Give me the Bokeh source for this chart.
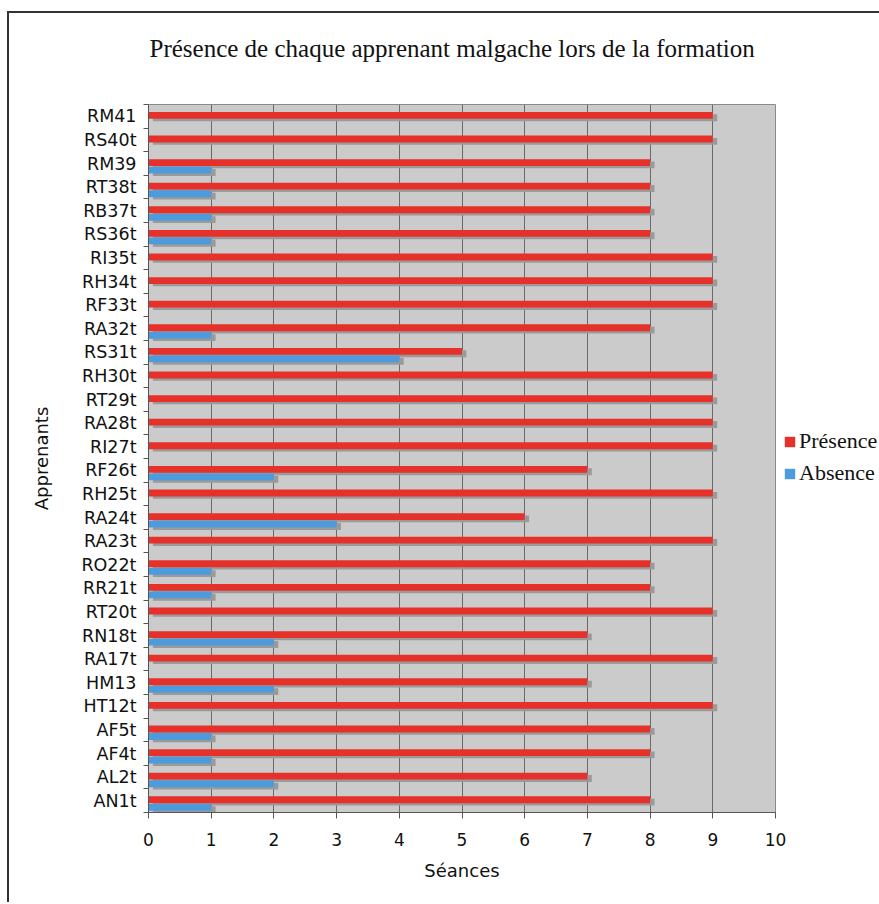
from bokeh.plotting import figure
from bokeh.models import (ColumnDataSource, Range1d, FixedTicker, Legend, LegendItem, Title)
from bokeh.transform import dodge
from bokeh.embed import file_html
from bokeh.resources import INLINE

# Data (top to bottom as in the reference)
apprenants = ["RM41", "RS40t", "RM39", "RT38t", "RB37t", "RS36t", "RI35t", "RH34t", "RF33t",
              "RA32t", "RS31t", "RH30t", "RT29t", "RA28t", "RI27t", "RF26t", "RH25t", "RA24t",
              "RA23t", "RO22t", "RR21t", "RT20t", "RN18t", "RA17t", "HM13", "HT12t", "AF5t",
              "AF4t", "AL2t", "AN1t"]
presence = [9, 9, 8, 8, 8, 8, 9, 9, 9, 8, 5, 9, 9, 9, 9, 7, 9, 6, 9, 8, 8, 9, 7, 9, 7, 9, 8, 8, 7, 8]
absence = [0, 0, 1, 1, 1, 1, 0, 0, 0, 1, 4, 0, 0, 0, 0, 2, 0, 3, 0, 1, 1, 0, 2, 0, 2, 0, 1, 1, 2, 1]
x_ticks = [0, 1, 2, 3, 4, 5, 6, 7, 8, 9, 10]
title_text = "Présence de chaque apprenant malgache lors de la formation"
series_names = ["Présence", "Absence"]

n = len(apprenants)
# bottom category first on numeric axis
names_bt = apprenants[::-1]
pres_bt = presence[::-1]
abs_bt = absence[::-1]
centers = [i + 0.5 for i in range(n)]

src = ColumnDataSource(dict(y=centers, name=names_bt, pres=pres_bt, abs=abs_bt))

RED = "#e5312a"
BLUE = "#4d9bdd"
SHADOW = "#9a9a9a"
BG = "#cbcbcb"

p = figure(frame_width=627, frame_height=708, output_backend="svg", toolbar_location=None,
           x_range=Range1d(0, 10), y_range=Range1d(0, n),
           min_border_left=139, min_border_right=0, min_border_top=91, min_border_bottom=90,
           background_fill_color=BG, border_fill_color="white",
           outline_line_color="#8a8a8a", outline_line_width=1)
p.styles = {"border-top": "2px solid #333", "border-left": "2px solid #333",
            "margin-top": "11px", "margin-left": "7px"}

p.title = Title(text=title_text, align="left", text_font="Liberation Serif",
                text_font_size="25px", text_font_style="normal", text_color="#111",
                standoff=10, offset=1)
# empty spacer between the title and the plot area
p.add_layout(Title(text=" ", text_font_size="10px", standoff=25), "above")

bh = 0.29
# shadows
p.hbar(y=dodge("y", 0.04 - 0.1), left=0.07, right=dodge("pres", 0.07), height=bh,
       source=src, color=SHADOW, line_color=None)
p.hbar(y=dodge("y", -0.28 - 0.1), left=0.07, right=dodge("abs", 0.07), height=bh,
       source=src, color=SHADOW, line_color=None)
# bars
r_p = p.hbar(y=dodge("y", 0.04), left=0, right="pres", height=bh, source=src,
             color=RED, line_color=None)
r_a = p.hbar(y=dodge("y", -0.28), left=0, right="abs", height=bh, source=src,
             color=BLUE, line_color=None)

# grid
p.ygrid.visible = False
p.xgrid.ticker = FixedTicker(ticks=x_ticks)
p.xgrid.grid_line_color = "#6a6a6a"
p.xgrid.grid_line_width = 1

# x axis
xa = p.xaxis[0]
xa.ticker = FixedTicker(ticks=x_ticks)
xa.axis_label = "Séances"
xa.axis_label_text_font = "DejaVu Sans"
xa.axis_label_text_font_size = "18px"
xa.axis_label_text_font_style = "normal"
xa.axis_label_text_color = "#111"
xa.axis_label_standoff = 11
xa.major_label_text_font = "DejaVu Sans"
xa.major_label_text_font_size = "17px"
xa.major_label_text_color = "#111"
xa.major_label_standoff = 14
xa.major_tick_in = 0
xa.major_tick_out = 6
xa.minor_tick_line_color = None
xa.axis_line_color = "#555"
xa.major_tick_line_color = "#555"

# y axis
ya = p.yaxis[0]
ya.ticker = FixedTicker(ticks=centers, minor_ticks=list(range(n + 1)))
ya.major_label_overrides = {c: nm for c, nm in zip(centers, names_bt)}
ya.major_tick_line_color = None
ya.minor_tick_in = 0
ya.minor_tick_out = 5
ya.minor_tick_line_color = "#555"
ya.axis_line_color = "#555"
ya.major_label_text_font = "DejaVu Sans"
ya.major_label_text_font_size = "17.5px"
ya.major_label_text_color = "#111"
ya.major_label_standoff = 6
ya.axis_label = "Apprenants"
ya.axis_label_text_font = "DejaVu Sans"
ya.axis_label_text_font_size = "18px"
ya.axis_label_text_font_style = "normal"
ya.axis_label_text_color = "#111"
ya.axis_label_standoff = 26

legend = Legend(items=[LegendItem(label=series_names[0], renderers=[r_p]),
                       LegendItem(label=series_names[1], renderers=[r_a])],
                location=(8, 326), orientation="vertical",
                border_line_color=None, background_fill_alpha=0,
                label_text_font="Liberation Serif", label_text_font_size="22px",
                label_text_color="#111", glyph_width=13, glyph_height=13,
                label_height=22, spacing=6, padding=0, margin=10, label_standoff=3)
p.add_layout(legend, "right")

open("out.html", "w").write(file_html(p, INLINE))
